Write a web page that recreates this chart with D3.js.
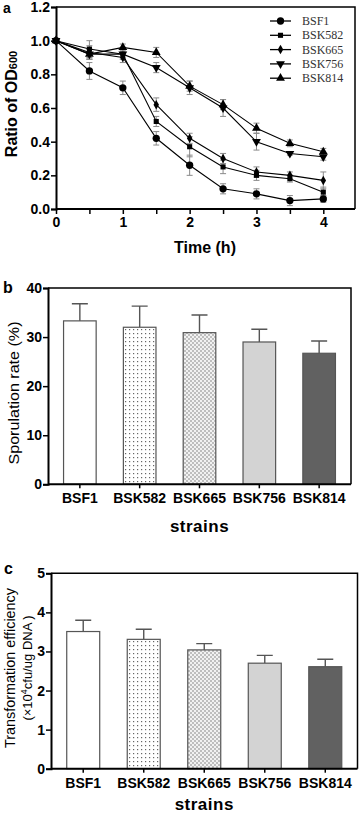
<!DOCTYPE html>
<html><head><meta charset="utf-8">
<script src="https://cdn.jsdelivr.net/npm/d3@7"></script>
<style>
html,body{margin:0;padding:0;background:#fff;}
svg{display:block;font-family:"Liberation Sans",Arial,sans-serif;}
</style></head>
<body><svg id="c" width="359" height="815"></svg>
<script>
// ---- Panel a data ----
const times = [0, 0.5, 1, 1.5, 2, 2.5, 3, 3.5, 4];
const seriesNames = ["BSF1", "BSK582", "BSK665", "BSK756", "BSK814"];
const bsf1 = [1.0, 0.82, 0.72, 0.42, 0.26, 0.12, 0.09, 0.05, 0.06];
const bsk582 = [1.0, 0.95, 0.92, 0.52, 0.37, 0.25, 0.20, 0.18, 0.10];
const bsk665 = [1.0, 0.93, 0.90, 0.62, 0.42, 0.30, 0.22, 0.20, 0.17];
const bsk756 = [1.0, 0.92, 0.92, 0.84, 0.72, 0.60, 0.40, 0.33, 0.31];
const bsk814 = [1.0, 0.92, 0.96, 0.93, 0.73, 0.62, 0.48, 0.39, 0.34];
const bsf1Err = [0, 0.05, 0.04, 0.04, 0.06, 0.03, 0.03, 0.03, 0.02];
const bsk582Err = [0, 0.05, 0.03, 0.03, 0.06, 0.04, 0.03, 0.02, 0.03];
const bsk665Err = [0, 0.04, 0.03, 0.04, 0.03, 0.03, 0.03, 0.02, 0.05];
const bsk756Err = [0, 0.03, 0.03, 0.03, 0.04, 0.05, 0.05, 0.01, 0.02];
const bsk814Err = [0, 0.03, 0.02, 0.03, 0.03, 0.03, 0.03, 0.02, 0.02];
const yTicksA = [0, 0.2, 0.4, 0.6, 0.8, 1.0, 1.2];
const xTicksA = [0, 0.5, 1, 1.5, 2, 2.5, 3, 3.5, 4];
const xLabelsA = [0, 1, 2, 3, 4];

// ---- Panel b/c data ----
const strains = ["BSF1", "BSK582", "BSK665", "BSK756", "BSK814"];
const sporulation = [33.3, 32.0, 30.9, 29.0, 26.7];
const sporulationErr = [3.5, 4.3, 3.6, 2.6, 2.5];
const yTicksB = [0, 10, 20, 30, 40];
const transformation = [3.51, 3.31, 3.04, 2.70, 2.61];
const transformationErr = [0.29, 0.26, 0.16, 0.20, 0.19];
const yTicksC = [0, 1, 2, 3, 4, 5];

const svg = d3.select("#c");
const defs = svg.append("defs");
// patterns
const p1 = defs.append("pattern").attr("id","dots1").attr("patternUnits","userSpaceOnUse").attr("width",4).attr("height",4);
p1.append("rect").attr("width",4).attr("height",4).attr("fill","#fff");
p1.append("rect").attr("x",1).attr("y",1).attr("width",1.2).attr("height",1.2).attr("fill","#666");
const p2 = defs.append("pattern").attr("id","dots2").attr("patternUnits","userSpaceOnUse").attr("width",4).attr("height",4);
p2.append("rect").attr("width",4).attr("height",4).attr("fill","#d6d6d6");
p2.append("circle").attr("cx",1).attr("cy",1).attr("r",0.9).attr("fill","#fff");
p2.append("circle").attr("cx",3).attr("cy",3).attr("r",0.9).attr("fill","#fff");
p2.append("rect").attr("x",2.5).attr("y",0.5).attr("width",1).attr("height",1).attr("fill","#777");
p2.append("rect").attr("x",0.5).attr("y",2.5).attr("width",1).attr("height",1).attr("fill","#777");
const barFills = ["#ffffff", "url(#dots1)", "url(#dots2)", "#d3d3d3", "#616161"];

// ================= Panel a =================
const xA = d3.scaleLinear().domain([0, 4]).range([56, 323.3]);
const yA = d3.scaleLinear().domain([0, 1.2]).range([209, 7]);
const gA = svg.append("g");
// frame
gA.append("path").attr("d", `M${xA(0)},${yA(1.2)}H355V${yA(0)}`).attr("fill","none").attr("stroke","#000").attr("stroke-width",1.5);
const axA = gA.append("g").attr("transform",`translate(0,${yA(0)})`)
  .call(d3.axisBottom(xA).tickValues(xTicksA).tickSize(5).tickFormat(d => xLabelsA.includes(d) ? d : ""));
axA.select(".domain").attr("d", `M${xA(0)},0H355`);
const ayA = gA.append("g").attr("transform",`translate(${xA(0)},0)`)
  .call(d3.axisLeft(yA).tickValues(yTicksA).tickSize(5).tickFormat(d3.format(".1f")));
[axA, ayA].forEach(a => {
  a.select(".domain").attr("stroke-width",2);
  a.selectAll(".tick line").attr("stroke-width",1.5);
  a.selectAll("text").attr("font-size",14).attr("font-weight","bold").attr("fill","#000").attr("font-family","Liberation Sans, Arial, sans-serif");
});
axA.selectAll("text").attr("dy","0.9em").attr("y",5);
ayA.selectAll("text").attr("x",-6);

const seriesVals = [bsf1, bsk582, bsk665, bsk756, bsk814];
const seriesErrs = [bsf1Err, bsk582Err, bsk665Err, bsk756Err, bsk814Err];
const symbols = [
  d3.symbol().type(d3.symbolCircle).size(42),
  d3.symbol().type(d3.symbolSquare).size(26),
  d3.symbol().type(d3.symbolDiamond).size(26),
  d3.symbol().type(d3.symbolTriangle).size(34),
  d3.symbol().type(d3.symbolTriangle).size(34)
];
const rotations = [0, 0, 0, 180, 0];
const line = d3.line().x((d,i) => xA(times[i])).y(d => yA(d));
// error bars
seriesVals.forEach((vals, s) => {
  const g = gA.append("g");
  vals.forEach((v, i) => {
    const e = seriesErrs[s][i];
    if (!e) return;
    const x = xA(times[i]);
    g.append("path").attr("d", `M${x},${yA(v+e)}V${yA(v-e)}M${x-3},${yA(v+e)}H${x+3}M${x-3},${yA(v-e)}H${x+3}`)
      .attr("stroke","#8a8a8a").attr("stroke-width",1).attr("fill","none");
  });
});
seriesVals.forEach((vals, s) => {
  gA.append("path").datum(vals).attr("d", line).attr("fill","none").attr("stroke","#000").attr("stroke-width",1.1);
  gA.selectAll(null).data(vals).join("path")
    .attr("d", symbols[s])
    .attr("transform", (d,i) => `translate(${xA(times[i])},${yA(d)}) rotate(${rotations[s]})`)
    .attr("fill","#000");
});
// legend
const leg = gA.append("g");
seriesNames.forEach((n, i) => {
  const y = 21 + i * 14.3;
  leg.append("line").attr("x1",270).attr("x2",291).attr("y1",y).attr("y2",y).attr("stroke","#000").attr("stroke-width",1.3);
  leg.append("path").attr("d", symbols[i]).attr("transform",`translate(280.5,${y}) rotate(${rotations[i]})`).attr("fill","#000");
  leg.append("text").attr("x",302).attr("y",y+4).text(n)
    .attr("font-family","Liberation Serif, Times New Roman, serif").attr("font-size",12).attr("fill","#333");
});
gA.append("text").attr("x", 205).attr("y", 253).attr("text-anchor","middle")
  .attr("font-size",16).attr("font-weight","bold").text("Time (h)");
const tA = gA.append("text").attr("transform","translate(17,104) rotate(-90)").attr("text-anchor","middle")
  .attr("font-size",16).attr("font-weight","bold");
tA.append("tspan").text("Ratio of OD");
tA.append("tspan").attr("font-size",11).text("600");
svg.append("text").attr("x",3).attr("y",13).attr("font-size",14).attr("font-weight","bold").text("a");

// ================= Bar panels =================
function barPanel(opt) {
  const g = svg.append("g");
  const x = d3.scaleBand().domain(strains).range([opt.x0, opt.x1]).paddingInner(0.455).paddingOuter(0.26);
  const y = d3.scaleLinear().domain(opt.domain).range([opt.yb, opt.yt]);
  g.append("path").attr("d", `M${opt.x0},${opt.yt}H${opt.x1}V${opt.yb}`).attr("fill","none").attr("stroke","#000").attr("stroke-width",1.5);
  // error bars (upper only)
  opt.vals.forEach((v, i) => {
    const cx = x(strains[i]) + x.bandwidth()/2;
    const top = y(v + opt.errs[i]);
    g.append("path").attr("d", `M${cx},${y(v)}V${top}M${cx-8},${top}H${cx+8}`)
      .attr("stroke","#555").attr("stroke-width",1.4).attr("fill","none");
  });
  g.selectAll(null).data(opt.vals).join("rect")
    .attr("x",(d,i) => x(strains[i])).attr("width", x.bandwidth())
    .attr("y", d => y(d)).attr("height", d => y(0) - y(d))
    .attr("fill",(d,i) => barFills[i]).attr("stroke","#555").attr("stroke-width",1.2);
  const ax = g.append("g").attr("transform",`translate(0,${opt.yb})`).call(d3.axisBottom(x).tickSize(4));
  ax.select(".domain").attr("d", `M${opt.x0},0H${opt.x1}`);
  const ay = g.append("g").attr("transform",`translate(${opt.x0},0)`)
    .call(d3.axisLeft(y).tickValues(opt.ticks).tickSize(5).tickFormat(d3.format("d")));
  [ax, ay].forEach(a => {
    a.select(".domain").attr("stroke-width",2);
    a.selectAll(".tick line").attr("stroke-width",1.5);
    a.selectAll("text").attr("font-size",14).attr("font-weight","bold").attr("fill","#000").attr("font-family","Liberation Sans, Arial, sans-serif");
  });
  ax.selectAll("text").attr("y",9).attr("dy","0.71em");
  ay.selectAll("text").attr("x",-6);
  g.append("text").attr("x",(opt.x0+opt.x1)/2).attr("y",opt.yb+opt.titleOff).attr("text-anchor","middle")
    .attr("font-size",17).attr("font-weight","bold").attr("letter-spacing",0.5).text("strains");
  return g;
}
barPanel({x0:48, x1:351, yt:288, yb:484.3, domain:[0,40], vals:sporulation, errs:sporulationErr, ticks:yTicksB, titleOff:48});
svg.append("text").attr("transform","translate(19,393) rotate(-90)").attr("text-anchor","middle")
  .attr("font-size",14).attr("textLength",143).attr("lengthAdjust","spacingAndGlyphs").text("Sporulation rate (%)");
svg.append("text").attr("x",3).attr("y",293).attr("font-size",16).attr("font-weight","bold").text("b");

barPanel({x0:51, x1:357.5, yt:573.3, yb:768.7, domain:[0,5], vals:transformation, errs:transformationErr, ticks:yTicksC, titleOff:41});
svg.append("text").attr("transform","translate(15,668) rotate(-90)").attr("text-anchor","middle")
  .attr("font-size",14).attr("textLength",160).attr("lengthAdjust","spacingAndGlyphs").text("Transformation efficiency");
const t2 = svg.append("text").attr("transform","translate(32,668) rotate(-90)").attr("text-anchor","middle")
  .attr("font-size",13);
t2.append("tspan").text("(\u00d710");
t2.append("tspan").attr("font-size",9).attr("dy",-5).text("4");
t2.append("tspan").attr("dy",5).text("cfu/ug DNA )");
svg.append("text").attr("x",4).attr("y",574).attr("font-size",16).attr("font-weight","bold").text("c");
</script>
</body></html>
